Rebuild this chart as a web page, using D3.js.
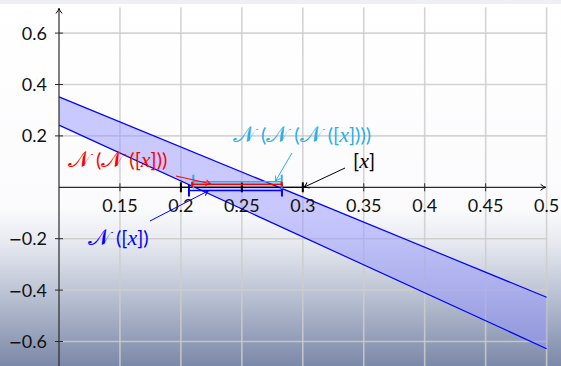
<!DOCTYPE html>
<html>
<head>
<meta charset="utf-8">
<script src="https://cdn.jsdelivr.net/npm/d3@7"></script>
<style>
  html, body { margin: 0; padding: 0; background: #fff; }
  svg { display: block; }
  text { font-family: Lato, "Open Sans", sans-serif; }
</style>
</head>
<body>
<svg id="chart" width="561" height="366"></svg>
<script>
// Axis ticks and their labels
const xTicks = [0.15, 0.2, 0.25, 0.3, 0.35, 0.4, 0.45, 0.5];
const xTickLabels = ["0.15", "0.2", "0.25", "0.3", "0.35", "0.4", "0.45", "0.5"];
const yTicks = [-0.6, -0.4, -0.2, 0.2, 0.4, 0.6];
const yTickLabels = ["\u22120.6", "\u22120.4", "\u22120.2", "0.2", "0.4", "0.6"];

// Enclosure band of the function: upper and lower bounding lines
const bandX = [0.1, 0.5];
const bandUpper = [0.352, -0.428];
const bandLower = [0.242, -0.628];

// Starting interval and successive Newton iterates
const intervalX = [0.2, 0.3];
const intervalMid = 0.25;
const newton1 = [0.2066, 0.2829];
const newton2 = [0.2092, 0.2827];
const newton3 = [0.2102, 0.2827];

const W = 561, H = 366;
const x = d3.scaleLinear().domain([0.1, 0.5]).range([59, 546.6]);
const y = d3.scaleLinear().domain([-0.7, 0.7]).range([367.2, 7.4]);

const svg = d3.select("#chart");
const defs = svg.append("defs");

// page background: white fading into slate towards the bottom
const grad = defs.append("linearGradient").attr("id", "bg")
  .attr("x1", 0).attr("y1", 0).attr("x2", 0).attr("y2", 1);
[[0, "#ffffff"], [0.57, "#fbfbfd"], [0.66, "#e7eaf0"], [0.8, "#bcc3d4"], [1, "#7b88a8"]]
  .forEach(([o, c]) => grad.append("stop").attr("offset", o).attr("stop-color", c));
svg.append("rect").attr("width", W).attr("height", H).attr("fill", "url(#bg)");
svg.append("rect").attr("width", W).attr("height", 4).attr("fill", "#eff0f3");

// arrow markers
function marker(id, color) {
  defs.append("marker").attr("id", id)
    .attr("viewBox", "-6 -4 8 8").attr("refX", 0).attr("refY", 0)
    .attr("markerWidth", 8).attr("markerHeight", 8)
    .attr("markerUnits", "userSpaceOnUse").attr("orient", "auto")
    .append("path").attr("d", "M-5,-3 Q-2,-0.5 0,0 Q-2,0.5 -5,3")
    .attr("fill", "none").attr("stroke", color).attr("stroke-width", 1);
}
const BLUE = "#0000ff", RED = "#ff0000", CYAN = "#2aaee6", BLACK = "#000000";
marker("aBlue", BLUE); marker("aRed", RED); marker("aCyan", CYAN); marker("aBlack", BLACK);

// grid
const gridColor = "rgba(205,205,205,0.85)";
svg.append("g").selectAll("line").data(xTicks).join("line")
  .attr("x1", d => x(d)).attr("x2", d => x(d))
  .attr("y1", y(0.7)).attr("y2", y(-0.7))
  .attr("stroke", gridColor).attr("stroke-width", 1.6);
svg.append("g").selectAll("line").data(yTicks).join("line")
  .attr("x1", x(0.1)).attr("x2", x(0.5))
  .attr("y1", d => y(d)).attr("y2", d => y(d))
  .attr("stroke", gridColor).attr("stroke-width", 1.6);

// band between the two bounding lines
const bandPts = bandX.map((d, i) => [x(d), y(bandUpper[i])])
  .concat(bandX.map((d, i) => [x(d), y(bandLower[i])]).reverse());
svg.append("path").attr("d", d3.line()(bandPts) + "Z")
  .attr("fill", "rgba(150,150,255,0.5)");
[bandUpper, bandLower].forEach(vals => {
  svg.append("path")
    .attr("d", d3.line()(bandX.map((d, i) => [x(d), y(vals[i])])))
    .attr("fill", "none").attr("stroke", BLUE).attr("stroke-width", 1.2);
});

// axes
const axisColor = "#2a2a2a";
svg.append("line").attr("x1", x(0.1)).attr("x2", x(0.1))
  .attr("y1", H).attr("y2", y(0.7) + 1)
  .attr("stroke", axisColor).attr("stroke-width", 1.2).attr("marker-end", "url(#aBlack)");
svg.append("line").attr("x1", x(0.1)).attr("x2", x(0.5) - 1)
  .attr("y1", y(0)).attr("y2", y(0))
  .attr("stroke", axisColor).attr("stroke-width", 1.2).attr("marker-end", "url(#aBlack)");

svg.append("g").selectAll("line").data(xTicks.slice(0, -1)).join("line")
  .attr("x1", d => x(d)).attr("x2", d => x(d))
  .attr("y1", y(0) - 4).attr("y2", y(0) + 4)
  .attr("stroke", axisColor).attr("stroke-width", 1);
svg.append("g").selectAll("line").data(yTicks).join("line")
  .attr("x1", x(0.1) - 4).attr("x2", x(0.1) + 4)
  .attr("y1", d => y(d)).attr("y2", d => y(d))
  .attr("stroke", axisColor).attr("stroke-width", 1);

svg.append("g").selectAll("text").data(xTicks).join("text")
  .attr("x", d => x(d)).attr("y", y(0) + 24.5)
  .attr("text-anchor", "middle").attr("font-size", 18).attr("fill", "#111")
  .text((d, i) => xTickLabels[i]);
// y labels: the minus sign is set in DejaVu for a full-width math minus
svg.append("g").selectAll("text").data(yTicks).join("text")
  .attr("x", x(0.1) - 12).attr("y", d => y(d)).attr("dy", "0.36em")
  .attr("text-anchor", "end").attr("font-size", 18).attr("fill", "#111")
  .each(function(d, i) {
    const s = yTickLabels[i];
    const t = d3.select(this);
    if (s[0] === "\u2212") {
      t.append("tspan").attr("font-family", "'DejaVu Sans'").attr("font-size", 16).text("\u2212");
      t.append("tspan").text(s.slice(1));
    } else t.text(s);
  });

// intervals on the x axis (drawn slightly offset so they stay distinguishable)
function interval(iv, dy, color, tickHalf, width) {
  const g = svg.append("g");
  const yy = y(0) + dy;
  g.append("line").attr("x1", x(iv[0])).attr("x2", x(iv[1]))
    .attr("y1", yy).attr("y2", yy).attr("stroke", color).attr("stroke-width", width);
  g.selectAll(".t").data(iv).join("line")
    .attr("x1", d => x(d)).attr("x2", d => x(d))
    .attr("y1", yy - tickHalf).attr("y2", yy + tickHalf)
    .attr("stroke", color).attr("stroke-width", 2);
}
interval(newton1, 3.2, BLUE, 6, 1.6);
interval(intervalX, 0, BLACK, 5, 1.2);
svg.append("line").attr("x1", x(intervalMid)).attr("x2", x(intervalMid))
  .attr("y1", y(0) - 5).attr("y2", y(0) + 5).attr("stroke", BLACK).attr("stroke-width", 2);
interval(newton3, -5.6, CYAN, 7, 1.6);
interval(newton2, -3, RED, 2.5, 1.6);

// labels with pointers
function label(parts, xs, ys, color) {
  const t = svg.append("text").attr("x", xs).attr("y", ys)
    .attr("font-size", 20).attr("fill", color);
  parts.forEach(p => {
    const s = t.append("tspan").text(p.t);
    if (p.i) s.attr("font-family", "'Liberation Serif', serif").attr("font-style", "italic").attr("font-size", 22);
    if (p.n) s.attr("font-family", "'DejaVu Sans', 'DejaVu Serif', serif").attr("font-size", 23);
    if (p.dx) s.attr("dx", p.dx);
  });
}
function pointer(x1, y1, x2, y2, color, m) {
  svg.append("line").attr("x1", x1).attr("y1", y1).attr("x2", x2).attr("y2", y2)
    .attr("stroke", color).attr("stroke-width", 1).attr("marker-end", `url(#${m})`);
}
const N = {t: "\uD835\uDCA9", n: true};
const P = {t: "(", dx: 6};
label([N, P, N, P, N, P, {t: "["}, {t: "x", i: true}, {t: "])))"}], 233, 142, CYAN);
label([N, P, N, P, {t: "["}, {t: "x", i: true}, {t: "]))"}], 68, 167, RED);
label([N, P, {t: "["}, {t: "x", i: true}, {t: "])"}], 88, 245, BLUE);
label([{t: "["}, {t: "x", i: true}, {t: "]"}], 353, 168, BLACK);

pointer(292, 153, x(0.2775), y(0) - 6, CYAN, "aCyan");
pointer(176, 176, x(0.2245), y(0) - 3.5, RED, "aRed");
pointer(150, 221, x(0.2225), y(0) + 3.5, BLUE, "aBlue");
pointer(345, 168, x(0.3) + 1, y(0), BLACK, "aBlack");
</script>
</body>
</html>
